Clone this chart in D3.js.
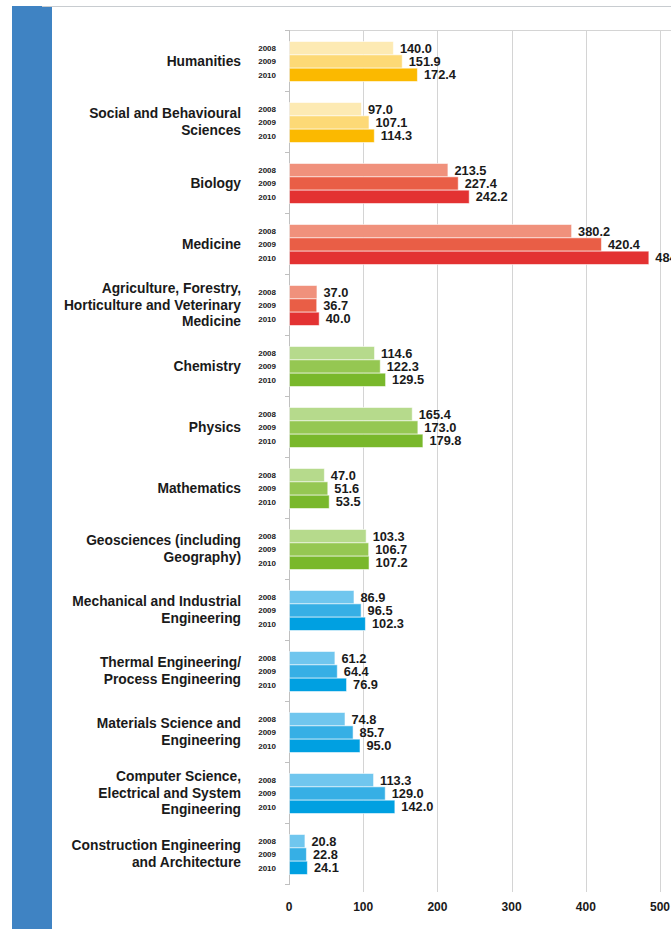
<!DOCTYPE html>
<html><head><meta charset="utf-8">
<script src="https://cdn.jsdelivr.net/npm/d3@7"></script>
<style>html,body{margin:0;padding:0;background:#fff;overflow:hidden}</style>
</head><body>
<svg id="c" width="671" height="929"></svg>
<script>
const categories = [
  ["Humanities"],
  ["Social and Behavioural","Sciences"],
  ["Biology"],
  ["Medicine"],
  ["Agriculture, Forestry,","Horticulture and Veterinary","Medicine"],
  ["Chemistry"],
  ["Physics"],
  ["Mathematics"],
  ["Geosciences (including","Geography)"],
  ["Mechanical and Industrial","Engineering"],
  ["Thermal Engineering/","Process Engineering"],
  ["Materials Science and","Engineering"],
  ["Computer Science,","Electrical and System","Engineering"],
  ["Construction Engineering","and Architecture"]
];
const years = ["2008","2009","2010"];
const v2008 = [140.0, 97.0, 213.5, 380.2, 37.0, 114.6, 165.4, 47.0, 103.3, 86.9, 61.2, 74.8, 113.3, 20.8];
const v2009 = [151.9, 107.1, 227.4, 420.4, 36.7, 122.3, 173.0, 51.6, 106.7, 96.5, 64.4, 85.7, 129.0, 22.8];
const v2010 = [172.4, 114.3, 242.2, 484.3, 40.0, 129.5, 179.8, 53.5, 107.2, 102.3, 76.9, 95.0, 142.0, 24.1];
const groups = ["yellow","yellow","red","red","red","green","green","green","green","blue","blue","blue","blue","blue"];
const xTicks = [0,100,200,300,400,500];
const palette = {
  yellow:["#fdeab3","#fdd976","#fbb900"],
  red:["#f0917c","#e95e46","#e33232"],
  green:["#b6da8c","#95c752","#79b82b"],
  blue:["#70c6ee","#36afe5","#00a0e1"]
};

const svg = d3.select("#c");
svg.append("rect").attr("x",12).attr("y",6).attr("width",40).attr("height",923).attr("fill","#3f83c3");
svg.append("line").attr("x1",42).attr("x2",671).attr("y1",6.5).attr("y2",6.5).attr("stroke","#c8ccd0").attr("stroke-width",1);

const x = d3.scaleLinear().domain([0,500]).range([289,660]);
const y = d3.scaleBand().domain(d3.range(categories.length)).range([30,884]);
const yIn = d3.scaleBand().domain(years).range([0,40]);

const g = svg.append("g");
g.selectAll("line.grid").data(xTicks.slice(1)).join("line")
  .attr("x1",d=>Math.round(x(d))+0.5).attr("x2",d=>Math.round(x(d))+0.5)
  .attr("y1",30).attr("y2",892).attr("stroke","#d4d4d4").attr("stroke-width",1);
g.append("line").attr("x1",289).attr("x2",671).attr("y1",30.5).attr("y2",30.5).attr("stroke","#d4d4d4");
g.append("line").attr("x1",289.5).attr("x2",289.5).attr("y1",30).attr("y2",885).attr("stroke","#c0c0c0");
g.selectAll("line.ct").data(d3.range(categories.length+1)).join("line")
  .attr("x1",285).attr("x2",289)
  .attr("y1",d=>30+d*y.step()+0.5).attr("y2",d=>30+d*y.step()+0.5).attr("stroke","#c0c0c0");

svg.append("g").selectAll("text").data(xTicks).join("text")
  .attr("x",d=>x(d)).attr("y",911).attr("text-anchor","middle")
  .attr("font-family","Liberation Sans, Arial, sans-serif").attr("font-weight","bold")
  .attr("font-size",12).attr("fill","#1a1a1a").text(d=>d);

const series = [v2008,v2009,v2010];
categories.forEach((lines,i)=>{
  const top = y(i) + (y.bandwidth()-40)/2 + 1;
  const cg = svg.append("g");
  const cy = y(i)+y.bandwidth()/2;
  const lh = 16.5;
  lines.forEach((ln,k)=>{
    cg.append("text").attr("x",241).attr("y",cy + (k-(lines.length-1)/2)*lh + 5)
      .attr("text-anchor","end").attr("font-family","Liberation Sans, Arial, sans-serif")
      .attr("font-weight","bold").attr("font-size",13.8).attr("fill","#1a1a1a").text(ln);
  });
  years.forEach((yr,j)=>{
    const v = series[j][i];
    const by = top + yIn(yr);
    cg.append("rect").attr("x",x(0)+0.5).attr("y",by)
      .attr("width",x(v)-x(0)).attr("height",yIn.bandwidth())
      .attr("fill",palette[groups[i]][j])
      .attr("stroke","rgba(255,255,255,0.55)").attr("stroke-width",1);
    cg.append("text").attr("x",276).attr("y",by+yIn.bandwidth()/2+2.8)
      .attr("text-anchor","end").attr("font-family","Liberation Sans, Arial, sans-serif")
      .attr("font-weight","bold").attr("font-size",8).attr("fill","#1a1a1a").text(yr);
    cg.append("text").attr("x",x(v)+7).attr("y",by+yIn.bandwidth()/2+4.5)
      .attr("font-family","Liberation Sans, Arial, sans-serif")
      .attr("font-weight","bold").attr("font-size",12.8).attr("fill","#1a1a1a").text(v.toFixed(1));
  });
});
</script>
</body></html>
